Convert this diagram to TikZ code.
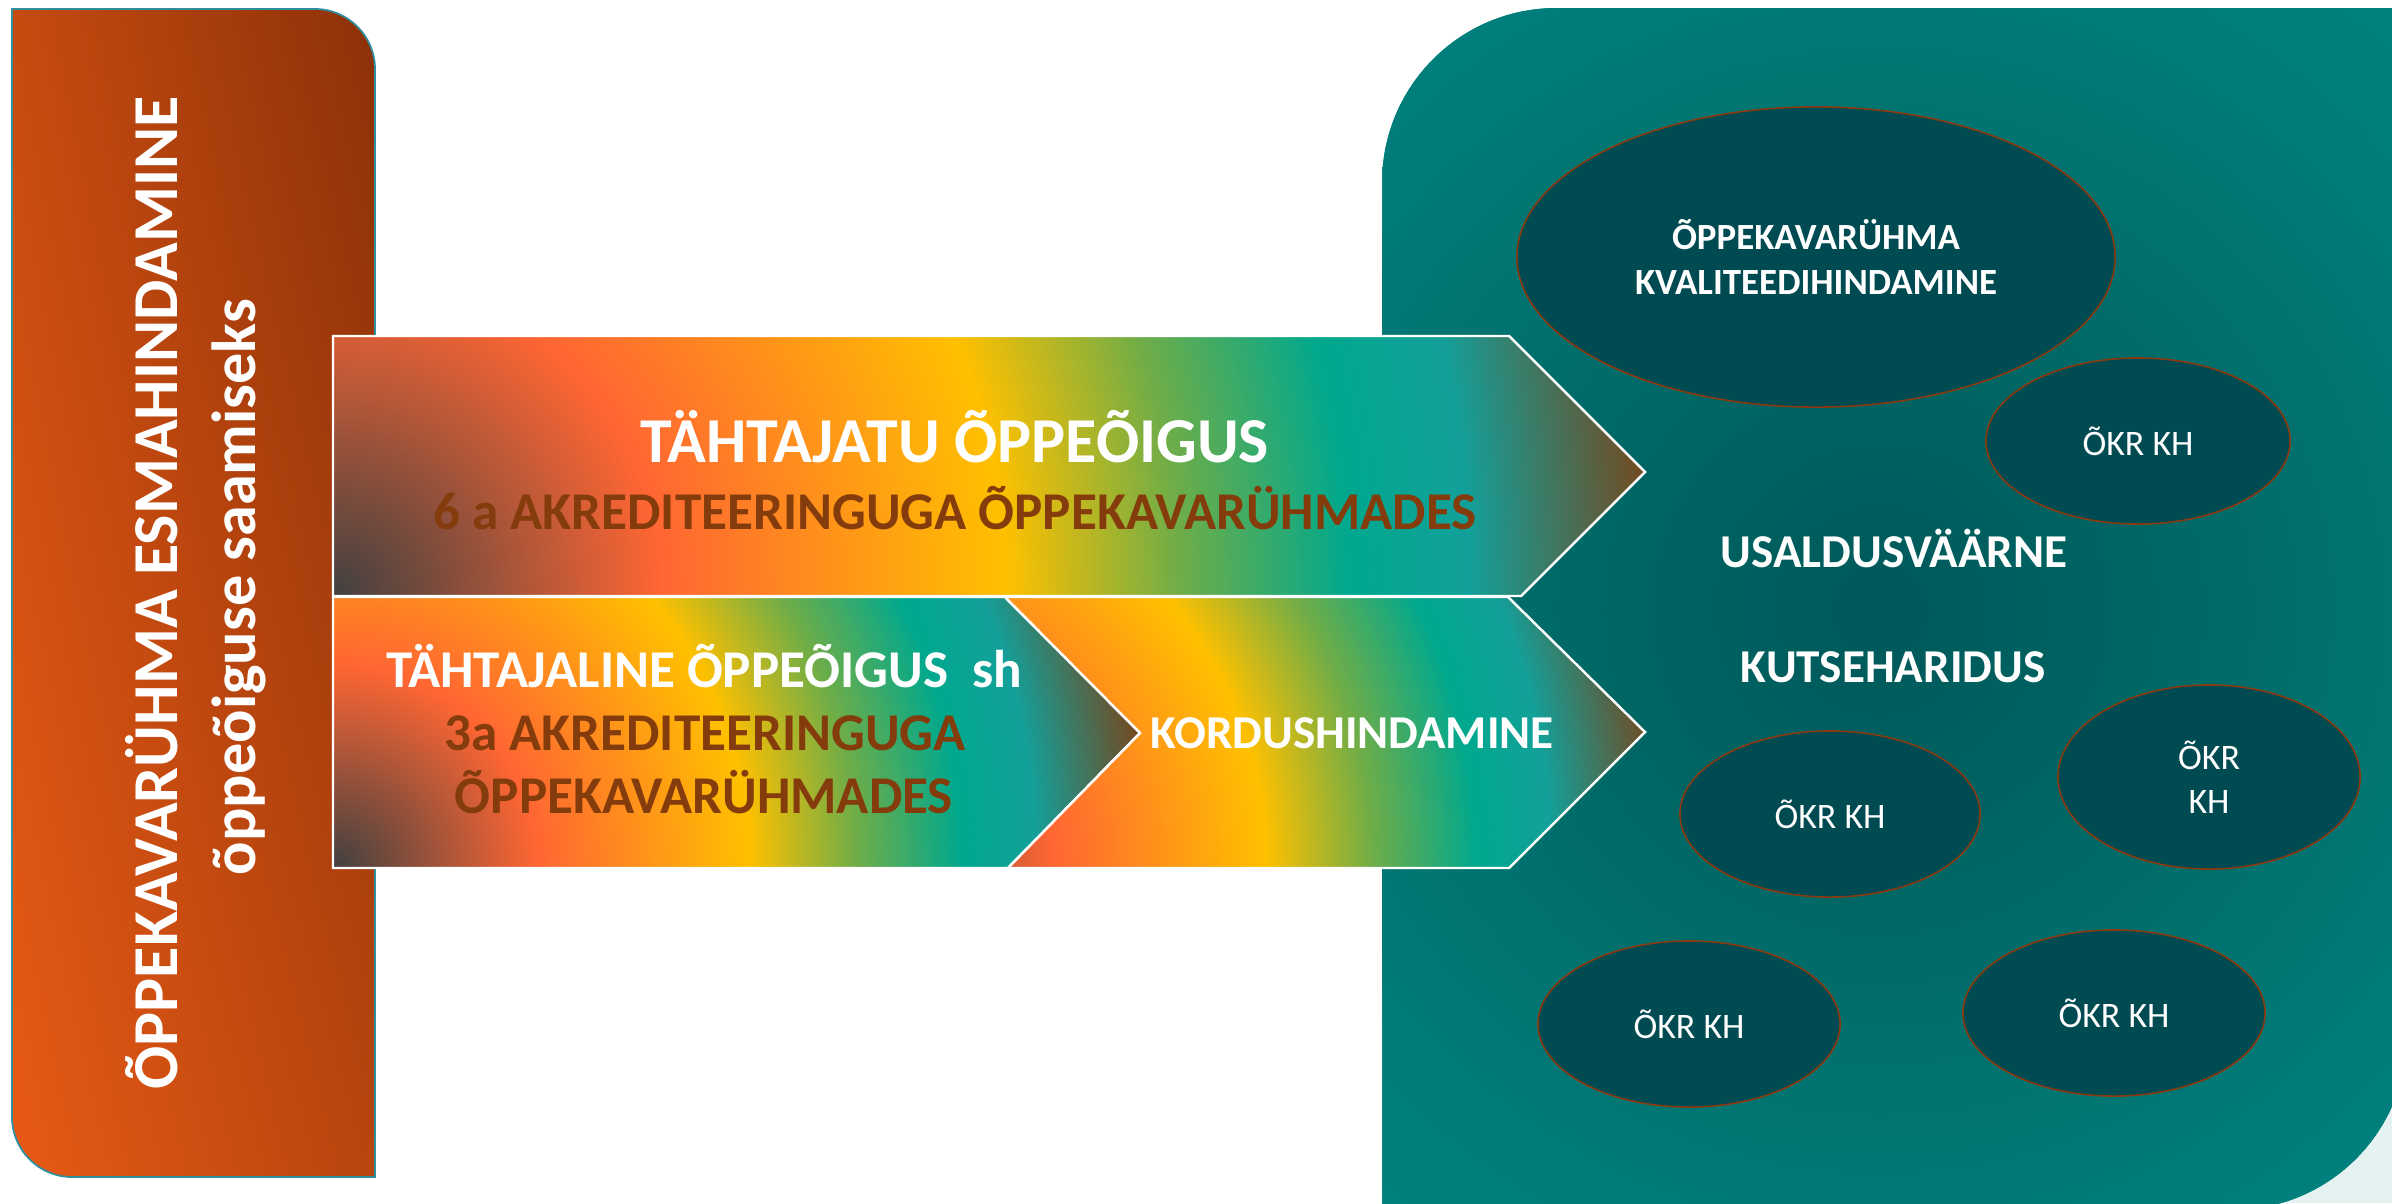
\documentclass[tikz,border=0pt]{standalone}
\usepackage{fontspec}
\setmainfont{Carlito}
\usetikzlibrary{shapes.geometric,shadings}
% colours
\definecolor{dgrey}{HTML}{404040}
\definecolor{ored}{HTML}{FF6633}
\definecolor{yel}{HTML}{FFC000}
\definecolor{grn}{HTML}{70AD47}
\definecolor{tealA}{HTML}{00A88E}
\definecolor{tealB}{HTML}{13A09A}
\definecolor{brn}{HTML}{74481F}
\definecolor{tc0}{HTML}{00585A}
\definecolor{tc1}{HTML}{006462}
\definecolor{tc2}{HTML}{007370}
\definecolor{tc3}{HTML}{007D7A}
\definecolor{tc4}{HTML}{00827F}
\definecolor{oUL}{HTML}{C64B10}
\definecolor{oUR}{HTML}{8C3108}
\definecolor{oLL}{HTML}{E85A14}
\definecolor{oLR}{HTML}{B6450F}
\definecolor{obord}{HTML}{2F8F9D}
\definecolor{efill}{HTML}{004A52}
\definecolor{ebord}{HTML}{8A3A10}
\definecolor{txtbrown}{HTML}{843C0C}
\definecolor{cornerbg}{HTML}{E4F2F2}
\pgfdeclareradialshading{rainbow}{\pgfpointorigin}{color(0bp)=(dgrey); color(6.25bp)=(ored); color(12.75bp)=(yel); color(16bp)=(grn); color(19.25bp)=(tealA); color(21.5bp)=(tealB); color(25bp)=(brn); color(50bp)=(brn)}
\pgfdeclareradialshading{tealglow}{\pgfpointorigin}{color(0bp)=(tc0); color(7.5bp)=(tc1); color(15bp)=(tc2); color(21bp)=(tc3); color(25bp)=(tc4); color(50bp)=(tc4)}
\tikzset{
  arrowline/.style={draw=white, line width=0.7pt, line join=miter},
  bubble/.style={ellipse, draw=ebord, line width=0.45pt, fill=efill, inner sep=0pt, text=white, align=center},
  okrtext/.style={font=\fontsize{10.2}{12.5}\selectfont},
  bigtext/.style={font=\fontsize{10.5}{12.8}\selectfont\bfseries},
  lbl/.style={inner sep=0pt, anchor=base},
  sidetext/.style={lbl, rotate=90, text=white, font=\fontsize{18.2}{22}\selectfont\bfseries},
  sidesmall/.style={lbl, rotate=90, text=white, font=\fontsize{17.7}{22}\selectfont\bfseries},
  headwhite/.style={lbl, text=white, font=\fontsize{18.2}{20}\selectfont\bfseries},
  subbrown/.style={lbl, text=txtbrown, font=\fontsize{15.1}{18}\selectfont\bfseries},
  subwhite/.style={lbl, text=white, font=\fontsize{15.1}{18}\selectfont\bfseries},
  midwhite/.style={lbl, text=white, font=\fontsize{13.4}{16}\selectfont\bfseries}
}
\begin{document}
\begin{tikzpicture}[x=0.01cm, y=-0.01cm]
\useasboundingbox (0,0) rectangle (2392,1203);
\fill[white] (0,0) rectangle (2392,1203);
\fill[cornerbg] (2150,950) rectangle (2392,1203);

% right teal panel
\begin{scope}
  \clip (1382,1215) -- (1382,183) .. controls (1382,86) and (1460,8) .. (1557,8) -- (2407,8) -- (2407,1035) .. controls (2407,1132) and (2329,1210) .. (2232,1210) -- cycle;
  \fill[tc4] (1300,0) rectangle (2400,1215);
  \shade[shading=tealglow] (1880,610) circle[radius=8cm];
\end{scope}

% left orange panel
\shadedraw[upper left=oUL, upper right=oUR, lower left=oLL, lower right=oLR, draw=obord, line width=0.5pt]
  (12,9) -- (315,9) .. controls (348,9) and (375,36) .. (375,69) -- (375,1177) -- (72,1177) .. controls (39,1177) and (12,1150) .. (12,1117) -- cycle;
\node[sidetext] (side1) at (177,593) {ÕPPEKAVARÜHMA ESMAHINDAMINE};
\node[sidesmall] (side2) at (255,587) {õppeõiguse saamiseks};

% top arrow
\begin{scope}
  \clip (333,336) -- (1509,336) -- (1645,472) -- (1521,596) -- (333,596) -- cycle;
  \shade[shading=rainbow] (333,596) circle[radius=13.2cm];
\end{scope}
\path[arrowline] (333,336) -- (1509,336) -- (1645,472) -- (1521,596) -- (333,596) -- cycle;

% bottom left arrow
\begin{scope}
  \clip (333,597) -- (1005,597) -- (1140,733) -- (1008,868) -- (333,868) -- cycle;
  \shade[shading=rainbow] (333,868) circle[radius=8.16cm];
\end{scope}
\path[arrowline] (333,597) -- (1005,597) -- (1140,733) -- (1008,868) -- (333,868) -- cycle;

% chevron
\begin{scope}
  \clip (1005,597) -- (1508,597) -- (1645,732) -- (1509,868) -- (1008,868) -- (1140,733) -- cycle;
  \shade[shading=rainbow] (850,868) circle[radius=8.14cm];
\end{scope}
\path[arrowline] (1005,597) -- (1508,597) -- (1645,732) -- (1509,868) -- (1008,868) -- (1140,733) -- cycle;

% arrow texts
\node[headwhite] (t1) at (955,462) {TÄHTAJATU ÕPPEÕIGUS};
\node[subbrown] (t2) at (955,529) {6 a AKREDITEERINGUGA ÕPPEKAVARÜHMADES};
\node[subwhite] (b1) at (704,687) {TÄHTAJALINE ÕPPEÕIGUS\ \ sh};
\node[subbrown] (b2) at (705,750) {3a AKREDITEERINGUGA};
\node[subbrown] (b3) at (704,813) {ÕPPEKAVARÜHMADES};
\node[midwhite] (k1) at (1352,748) {KORDUSHINDAMINE};

% right panel texts
\node[midwhite] (u1) at (1894,567) {USALDUSVÄÄRNE};
\node[midwhite] (u2) at (1893,682) {KUTSEHARIDUS};

% bubbles
\node[bubble, bigtext, minimum width=5.98cm, minimum height=3.0cm] (big) at (1816,257) {ÕPPEKAVARÜHMA\\KVALITEEDIHINDAMINE};
\node[bubble, okrtext, minimum width=3.04cm, minimum height=1.66cm] (e1) at (2138,441) {ÕKR KH};
\node[bubble, okrtext, minimum width=3.0cm, minimum height=1.66cm] (e2) at (1830,814) {ÕKR KH};
\node[bubble, okrtext, minimum width=3.02cm, minimum height=1.84cm] (e3) at (2209,777) {ÕKR\\KH};
\node[bubble, okrtext, minimum width=3.02cm, minimum height=1.66cm] (e4) at (1689,1024) {ÕKR KH};
\node[bubble, okrtext, minimum width=3.02cm, minimum height=1.66cm] (e5) at (2114,1013) {ÕKR KH};
\end{tikzpicture}
\end{document}
